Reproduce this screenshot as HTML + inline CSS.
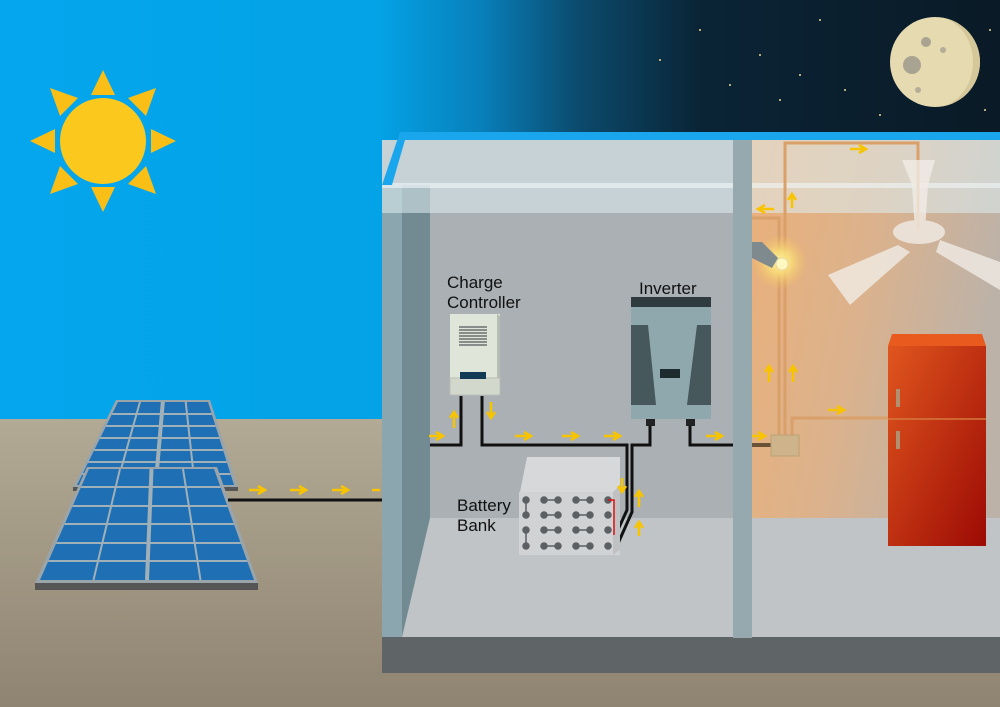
<!DOCTYPE html>
<html><head><meta charset="utf-8"><style>
html,body{margin:0;padding:0;background:#000}
svg{display:block}
text{font-family:"Liberation Sans",sans-serif;fill:#111}
</style></head><body>
<svg width="1000" height="707" viewBox="0 0 1000 707" xmlns="http://www.w3.org/2000/svg">
<defs>
<linearGradient id="sky" x1="0" x2="1" y1="0" y2="0">
<stop offset="0" stop-color="#05a6ee"/><stop offset="0.38" stop-color="#04a2e6"/>
<stop offset="0.48" stop-color="#0880bb"/><stop offset="0.58" stop-color="#0b4a6c"/>
<stop offset="0.7" stop-color="#0a2436"/><stop offset="1" stop-color="#0a1a26"/></linearGradient>
<linearGradient id="ground" x1="0" x2="0" y1="0" y2="1">
<stop offset="0" stop-color="#b2aa94"/><stop offset="1" stop-color="#8f8472"/></linearGradient>
<linearGradient id="room" x1="0" x2="1" y1="0" y2="0.3">
<stop offset="0" stop-color="#eab07a"/><stop offset="0.5" stop-color="#dcb28c"/><stop offset="1" stop-color="#bdb2a8"/></linearGradient>
<linearGradient id="fr" x1="0" x2="1" y1="0" y2="1">
<stop offset="0" stop-color="#e0561e"/><stop offset="1" stop-color="#9c0a04"/></linearGradient>
<radialGradient id="glow"><stop offset="0" stop-color="#fff6a0"/><stop offset="0.4" stop-color="#fbe27a" stop-opacity="0.8"/><stop offset="1" stop-color="#f5c060" stop-opacity="0"/></radialGradient>
<clipPath id="p1"><polygon points="118,402 208,402 234,485 77,485"/></clipPath>
<clipPath id="p2"><polygon points="89,469 214,469 254,580 40,580"/></clipPath>
</defs>
<rect width="1000" height="707" fill="url(#sky)"/>
<rect y="419" width="1000" height="288" fill="url(#ground)"/>
<g fill="#e8d890">
<circle cx="700" cy="30" r="1"/><circle cx="760" cy="55" r="1"/><circle cx="820" cy="20" r="1"/><circle cx="845" cy="90" r="1"/><circle cx="780" cy="100" r="1"/><circle cx="880" cy="115" r="1"/><circle cx="990" cy="30" r="1"/><circle cx="730" cy="85" r="1"/><circle cx="660" cy="60" r="1"/><circle cx="985" cy="110" r="1"/><circle cx="800" cy="75" r="1"/></g>
<g fill="#f9bf17">
<polygon points="103,70 115,95 91,95"/><polygon points="103,212 115,187 91,187"/>
<polygon points="30,141 55,129 55,153"/><polygon points="176,141 151,129 151,153"/>
<polygon points="50,88 78,98 60,116"/><polygon points="156,88 146,116 128,98"/>
<polygon points="50,194 60,166 78,184"/><polygon points="156,194 128,184 146,166"/>
</g>
<circle cx="103" cy="141" r="43" fill="#fbc81e"/>
<circle cx="935" cy="62" r="45" fill="#e6dbb0"/>
<path d="M935,17 A45,45 0 0 1 935,107 A38,45 0 0 0 935,17Z" fill="#d4c79a"/>
<circle cx="912" cy="65" r="9" fill="#a9a391"/><circle cx="926" cy="42" r="5" fill="#a9a391"/><circle cx="943" cy="50" r="3" fill="#b4ad98"/><circle cx="918" cy="90" r="3" fill="#b4ad98"/>
<polygon points="116,400 210,400 238,487 73,487" fill="#9aa5ab"/>
<rect x="73" y="487" width="165" height="4" fill="#555"/>
<polygon points="118,402 208,402 234,485 77,485" fill="#1f6fb5"/>
<g clip-path="url(#p1)" stroke="#9fb0b8" stroke-width="2">
<line x1="140.5" y1="400" x2="116" y2="487"/><line x1="163" y1="400" x2="155.5" y2="487" stroke-width="4"/><line x1="185.5" y1="400" x2="195" y2="487"/>
<line x1="60" y1="414" x2="250" y2="414"/><line x1="60" y1="426" x2="250" y2="426"/><line x1="60" y1="438" x2="250" y2="438"/><line x1="60" y1="450" x2="250" y2="450"/><line x1="60" y1="462" x2="250" y2="462"/><line x1="60" y1="474" x2="250" y2="474"/></g>
<polygon points="87,467 217,467 258,583 35,583" fill="#9aa5ab"/>
<rect x="35" y="583" width="223" height="7" fill="#555"/>
<polygon points="89,469 214,469 254,580 40,580" fill="#1f6fb5"/>
<g clip-path="url(#p2)" stroke="#9fb0b8" stroke-width="2">
<line x1="120" y1="469" x2="93.5" y2="580"/><line x1="151.5" y1="469" x2="147" y2="580" stroke-width="4"/><line x1="183" y1="469" x2="200.5" y2="580"/>
<line x1="30" y1="487" x2="260" y2="487"/><line x1="30" y1="506" x2="260" y2="506"/><line x1="30" y1="524" x2="260" y2="524"/><line x1="30" y1="543" x2="260" y2="543"/><line x1="30" y1="561" x2="260" y2="561"/></g>
<line x1="228" y1="500" x2="384" y2="500" stroke="#111" stroke-width="3"/>
<!-- house -->
<rect x="382" y="140" width="618" height="500" fill="#aab0b4"/>
<rect x="752" y="140" width="248" height="380" fill="url(#room)"/>
<rect x="382" y="637" width="618" height="36" fill="#5f6466"/>
<rect x="382" y="185" width="20" height="452" fill="#8ba6ae"/>
<rect x="402" y="185" width="28" height="452" fill="#728b93"/>
<polygon points="430,518 1000,518 1000,637 402,637" fill="#c0c4c6"/>
<rect x="382" y="140" width="618" height="73" fill="#dfeef2" opacity="0.55"/>
<rect x="382" y="183" width="618" height="5" fill="#f0f6f8" opacity="0.6"/>
<polygon points="382,185 400,132 1000,132 1000,140 405,140 392,185" fill="#1aa6ec"/>
<rect x="733" y="140" width="19" height="498" fill="#95a9ae"/>
<g fill="none" stroke="#d9a069" stroke-width="3">
<polyline points="785,435 785,143 918,143 918,230"/>
<polyline points="779,435 779,218 752,218"/>
<polyline points="792,435 792,418 888,418"/></g>
<line x1="752" y1="445" x2="771" y2="445" stroke="#6a5236" stroke-width="4"/>
<rect x="771" y="435" width="28" height="21" fill="#cdb48a" stroke="#bba274"/>
<circle cx="780" cy="262" r="28" fill="url(#glow)"/>
<polygon points="752,242 762,242 778,258 772,268 752,258" fill="#7f8a8e"/>
<circle cx="782" cy="264" r="6" fill="#fff8c0" stroke="#e8d8a0"/>
<g fill="#f1ece6" opacity="0.8">
<polygon points="902,160 935,160 928,185 925,230 915,230 912,185"/>
<ellipse cx="919" cy="232" rx="26" ry="12"/>
<polygon points="898,245 828,275 850,305 910,252"/>
<polygon points="940,240 1000,262 1000,290 936,252"/>
</g>
<polygon points="888,346 892,334 982,334 986,346" fill="#e85a1e"/>
<rect x="888" y="346" width="98" height="200" fill="url(#fr)"/>
<line x1="888" y1="419" x2="986" y2="419" stroke="#d6783e" stroke-width="1.5"/>
<rect x="896" y="389" width="4" height="18" fill="#b09070"/>
<rect x="896" y="431" width="4" height="18" fill="#b09070"/>
<g fill="none" stroke="#111" stroke-width="3">
<polyline points="430,445 461,445 461,396"/>
<polyline points="482,396 482,445 627,445 627,510 611,545"/>
<polyline points="650,425 650,445 632,445 632,512 616,548"/>
<polyline points="690,425 690,445 733,445"/></g>
<rect x="450" y="314" width="50" height="64" fill="#dfe5d8"/>
<polygon points="497,314 500,316 500,378 497,378" fill="#b8bcb2"/>
<rect x="450" y="378" width="50" height="17" fill="#d2d8cc" stroke="#b9bdb3" stroke-width="1"/>
<g stroke="#55595a" stroke-width="1.3"><line x1="459" y1="327" x2="487" y2="327"/><line x1="459" y1="330" x2="487" y2="330"/><line x1="459" y1="333" x2="487" y2="333"/><line x1="459" y1="336" x2="487" y2="336"/><line x1="459" y1="339" x2="487" y2="339"/><line x1="459" y1="342" x2="487" y2="342"/><line x1="459" y1="345" x2="487" y2="345"/></g>
<rect x="460" y="372" width="26" height="7" fill="#123a55"/>
<rect x="631" y="297" width="80" height="10" fill="#2f3b3e"/>
<rect x="631" y="307" width="80" height="112" fill="#8ea8ae"/>
<polygon points="631,325 648,325 656,405 631,405" fill="#46585c"/>
<polygon points="711,325 697,325 687,405 711,405" fill="#46585c"/>
<rect x="660" y="369" width="20" height="9" fill="#1d2a2e"/>
<rect x="646" y="419" width="9" height="7" fill="#222"/><rect x="686" y="419" width="9" height="7" fill="#222"/>
<polygon points="527,457 620,457 620,492 520,492" fill="#d7d8d9"/>
<rect x="519" y="492" width="101" height="63" fill="#d0d2d3"/>
<polygon points="613,492 620,485 620,550 613,555" fill="#bfc1c2"/>
<g fill="#5c6062" stroke="#5c6062" stroke-width="1.5">
<circle cx="526" cy="500" r="3"/><circle cx="526" cy="515" r="3"/><circle cx="526" cy="530" r="3"/><circle cx="526" cy="546" r="3"/>
<line x1="526" y1="500" x2="526" y2="515"/><line x1="526" y1="530" x2="526" y2="546"/>
<circle cx="544" cy="500" r="3"/><circle cx="558" cy="500" r="3"/><line x1="544" y1="500" x2="558" y2="500"/>
<circle cx="544" cy="515" r="3"/><circle cx="558" cy="515" r="3"/><line x1="544" y1="515" x2="558" y2="515"/>
<circle cx="544" cy="530" r="3"/><circle cx="558" cy="530" r="3"/><line x1="544" y1="530" x2="558" y2="530"/>
<circle cx="544" cy="546" r="3"/><circle cx="558" cy="546" r="3"/><line x1="544" y1="546" x2="558" y2="546"/>
<circle cx="576" cy="500" r="3"/><circle cx="590" cy="500" r="3"/><line x1="576" y1="500" x2="590" y2="500"/>
<circle cx="576" cy="515" r="3"/><circle cx="590" cy="515" r="3"/><line x1="576" y1="515" x2="590" y2="515"/>
<circle cx="576" cy="530" r="3"/><circle cx="590" cy="530" r="3"/><line x1="576" y1="530" x2="590" y2="530"/>
<circle cx="576" cy="546" r="3"/><circle cx="590" cy="546" r="3"/><line x1="576" y1="546" x2="590" y2="546"/>
<circle cx="608" cy="500" r="3"/><circle cx="608" cy="515" r="3"/><circle cx="608" cy="530" r="3"/><circle cx="608" cy="546" r="3"/></g>
<polyline points="608,500 614,500 614,535" fill="none" stroke="#e01010" stroke-width="1.5"/>
<g fill="none" stroke="#f8c400" stroke-width="2.5">
<path d="M249,490h16M258,486l7,4l-7,4"/><path d="M290,490h16M299,486l7,4l-7,4"/><path d="M332,490h16M341,486l7,4l-7,4"/><path d="M372,490h8"/>
<path d="M429,436h14M436,432l7,4l-7,4"/>
<path d="M515,436h16M524,432l7,4l-7,4"/><path d="M562,436h16M571,432l7,4l-7,4"/><path d="M604,436h16M613,432l7,4l-7,4"/>
<path d="M706,436h16M715,432l7,4l-7,4"/>
<path d="M752,436h12M758,432l7,4l-7,4"/>
<path d="M454,428v-16M450,418l4,-6l4,6"/>
<path d="M491,402v16M487,412l4,6l4,-6"/>
<path d="M639,507v-16M635,497l4,-6l4,6"/>
<path d="M639,536v-14M635,528l4,-6l4,6"/>
<path d="M622,478v14M618,486l4,6l4,-6"/>
<path d="M828,410h16M837,406l7,4l-7,4"/>
<path d="M850,149h16M859,145l7,4l-7,4"/>
<path d="M774,209h-16M765,205l-7,4l7,4"/>
<path d="M792,208v-14M788,200l4,-6l4,6"/>
<path d="M769,382v-16M765,372l4,-6l4,6"/><path d="M793,382v-16M789,372l4,-6l4,6"/>
</g>
<text x="447" y="288" font-size="17">Charge</text>
<text x="447" y="308" font-size="17">Controller</text>
<text x="639" y="294" font-size="17">Inverter</text>
<text x="457" y="511" font-size="17">Battery</text>
<text x="457" y="531" font-size="17">Bank</text>
</svg>
</body></html>
